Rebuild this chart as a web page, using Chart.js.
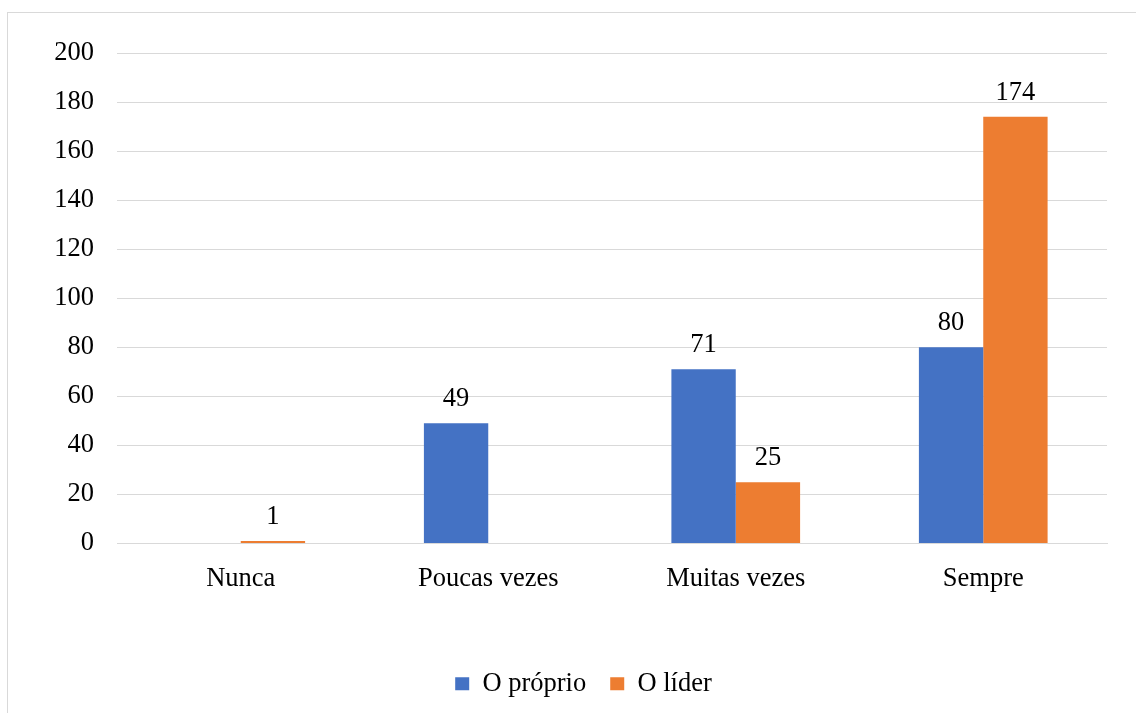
<!DOCTYPE html>
<html>
<head>
  <meta charset="UTF-8" />
  <title>O próprio vs O líder</title>
  <script src="https://cdn.jsdelivr.net/npm/chart.js"></script>
  <style>
    html, body { margin: 0; padding: 0; background: #fff; overflow: hidden; }
    #wrap { position: relative; width: 1136px; height: 713px; }
    #frame { position: absolute; left: 7px; top: 12px; width: 1140px; height: 720px;
             border: 1px solid #d9d9d9; box-sizing: border-box; }
    canvas { position: absolute; left: 0; top: 0; }
  </style>
</head>
<body>
<div id="wrap">
  <div id="frame"></div>
  <canvas id="chart" width="1136" height="713"></canvas>
</div>

<script>
  // data
  const categories = ['Nunca', 'Poucas vezes', 'Muitas vezes', 'Sempre'];
  const proprio = [null, 49, 71, 80];
  const lider = [1, null, 25, 174];
  const seriesNames = ['O próprio', 'O líder'];

  const FONT = "'Liberation Serif', 'Times New Roman', serif";
  const SIZE = 26.5;

  // draws the value above each bar
  const valueLabels = {
    id: 'valueLabels',
    afterDatasetsDraw(chart) {
      const ctx = chart.ctx;
      ctx.save();
      ctx.font = SIZE + 'px ' + FONT;
      ctx.fillStyle = '#000';
      ctx.textAlign = 'center';
      ctx.textBaseline = 'alphabetic';
      chart.data.datasets.forEach((ds, i) => {
        chart.getDatasetMeta(i).data.forEach((bar, j) => {
          const v = ds.data[j];
          if (v === null || v === undefined) return;
          ctx.fillText(String(v), bar.x, bar.y - 17);
        });
      });
      ctx.restore();
    }
  };

  // the original legend is centred a bit right of the canvas middle
  const legendShift = {
    id: 'legendShift',
    afterLayout(chart) {
      if (chart.legend) chart.legend.left += 60;
    }
  };

  const ctx = document.getElementById('chart').getContext('2d');
  new Chart(ctx, {
    type: 'bar',
    data: {
      labels: categories,
      datasets: [
        { label: seriesNames[0], data: proprio, backgroundColor: '#4472C4' },
        { label: seriesNames[1], data: lider, backgroundColor: '#ED7D31' }
      ]
    },
    options: {
      responsive: false,
      animation: false,
      devicePixelRatio: 1,
      categoryPercentage: 0.52,
      barPercentage: 1,
      layout: { padding: { top: 53, right: 29, bottom: 6, left: 0 } },
      scales: {
        x: {
          grid: { display: false, drawTicks: false },
          border: { color: '#d9d9d9' },
          ticks: { color: '#000', font: { family: FONT, size: SIZE }, padding: 20 },
          afterFit: (s) => { s.height = 103; }
        },
        y: {
          min: 0,
          max: 200,
          ticks: { stepSize: 20, color: '#000', font: { family: FONT, size: SIZE }, padding: 23 },
          grid: { color: '#d9d9d9', drawTicks: false },
          border: { display: false },
          afterFit: (s) => { s.width = 117; }
        }
      },
      plugins: {
        legend: {
          position: 'bottom',
          labels: {
            color: '#000',
            font: { family: FONT, size: SIZE },
            boxWidth: 14,
            boxHeight: 13,
            padding: 24
          }
        },
        tooltip: { enabled: false }
      }
    },
    plugins: [valueLabels, legendShift]
  });
</script>
</body>
</html>
